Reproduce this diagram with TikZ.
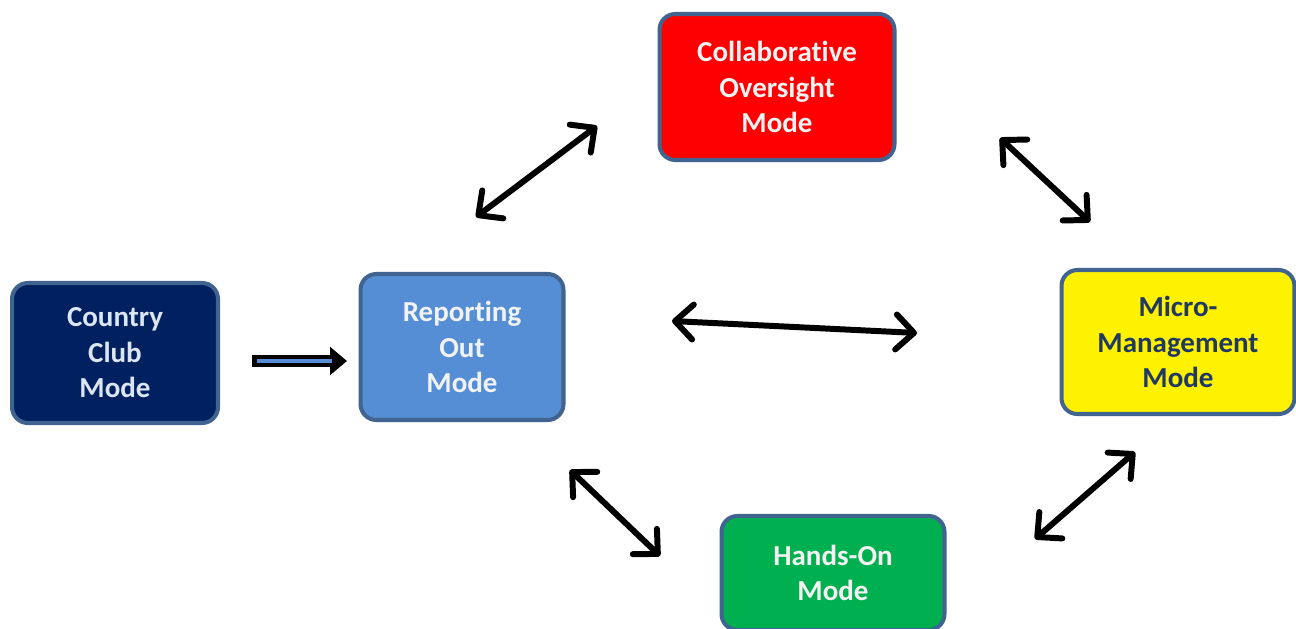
\documentclass[tikz,border=0pt]{standalone}
\usepackage{fontspec}
\setmainfont{Carlito}[Ligatures={NoCommon}]
\usepackage{tikz}
\usetikzlibrary{arrows.meta, positioning, calc}
\definecolor{edgeblue}{HTML}{41638F}
\definecolor{navy}{HTML}{002060}
\definecolor{midblue}{HTML}{558ED5}
\definecolor{paleblue}{HTML}{DCE6F2}
\definecolor{darktext}{HTML}{1F3864}
\definecolor{hgreen}{HTML}{00B050}

\begin{document}
\begin{tikzpicture}[
  x=0.02cm, y=-0.02cm,
  font=\fontsize{16.5}{20.2}\selectfont\bfseries,
  modebox/.style={rounded corners=9pt, line width=2.3pt, draw=edgeblue, align=center, inner sep=0pt},
  swap/.style={{Straight Barb[round, length=3.6mm, width=7mm]}-{Straight Barb[round, length=3.6mm, width=7mm]}, line width=3.4pt, line cap=round}
]
  \useasboundingbox (0,0) rectangle (1296,629);

  \node[modebox, fill=navy, text=paleblue, minimum width=4.12cm, minimum height=2.8cm]
    (country) at (115,353) {Country\\Club\\Mode};

  \node[modebox, fill=midblue, text=white!95!black, minimum width=4.06cm, minimum height=2.92cm]
    (report) at (462,347) {Reporting\\Out\\Mode};

  \node[modebox, fill=red, text=white!95!black, minimum width=4.7cm, minimum height=2.92cm]
    (collab) at (777,87) {Collaborative\\Oversight\\Mode};

  \node[modebox, fill=yellow, text=darktext, minimum width=4.66cm, minimum height=2.88cm]
    (micro) at (1178,342) {Micro-\\Management\\Mode};

  \node[modebox, fill=hgreen, text=white!95!black, minimum width=4.46cm, minimum height=2.28cm]
    (handson) at (833,573) {Hands-On\\Mode};

  % arrow ends between the boxes
  \coordinate (rc1) at (476,217);
  \coordinate (rc2) at (597,126);
  \coordinate (cm1) at (1000,138);
  \coordinate (cm2) at (1090,222);
  \coordinate (rm1) at (672,321);
  \coordinate (rm2) at (917,333);
  \coordinate (rh1) at (570,470);
  \coordinate (rh2) at (660,556);
  \coordinate (hm1) at (1035,539);
  \coordinate (hm2) at (1135,452);
  \coordinate (cr1) at (252,361);
  \coordinate (cr2) at (347,361);

  \draw[swap] (rc1) -- (rc2);
  \draw[swap] (cm1) -- (cm2);
  \draw[swap] (rm1) -- (rm2);
  \draw[swap] (rh1) -- (rh2);
  \draw[swap] (hm1) -- (hm2);

  % hollow push arrow
  \draw[line width=6.8pt, -{Triangle[length=3.4mm, width=5.5mm]}] (cr1) -- (cr2);
  \draw[line width=1.8pt, midblue, shorten <=0.1cm, shorten >=0.3cm] (cr1) -- (cr2);
\end{tikzpicture}
\end{document}
